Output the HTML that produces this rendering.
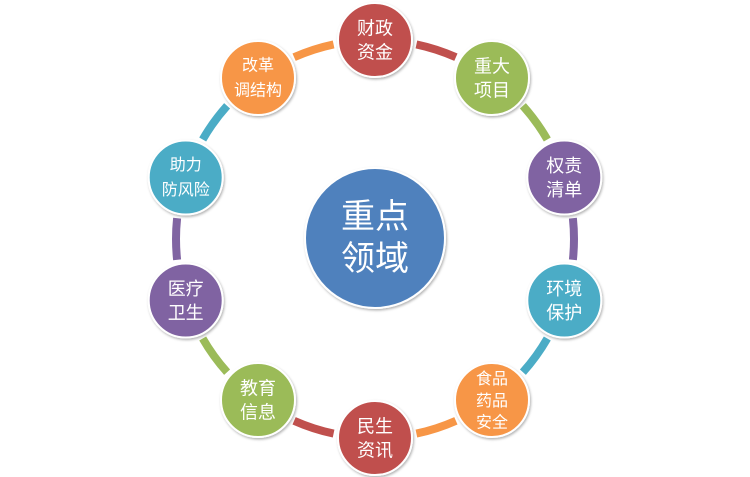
<!DOCTYPE html>
<html><head><meta charset="utf-8"><style>
html,body{margin:0;padding:0;background:#fff;}
svg{display:block;}
text{font-family:"Liberation Sans","Noto Sans CJK SC",sans-serif;fill:#fff;text-anchor:middle;}
</style></head><body>
<svg width="750" height="477" viewBox="0 0 750 477">
<defs>
<filter id="sh" x="-20%" y="-20%" width="140%" height="140%"><feDropShadow dx="1" dy="1.5" stdDeviation="1.2" flood-color="#000" flood-opacity="0.3"/></filter>
</defs>
<g fill="none" stroke-width="8">
<path d="M416.4 44.4 A199 199 0 0 1 455.9 57.2" stroke="#C0504D"/>
<path d="M522.9 105.8 A199 199 0 0 1 547.3 139.5" stroke="#9BBB59"/>
<path d="M572.9 218.2 A199 199 0 0 1 572.9 259.8" stroke="#8064A2"/>
<path d="M547.3 338.5 A199 199 0 0 1 522.9 372.2" stroke="#4BACC6"/>
<path d="M455.9 420.8 A199 199 0 0 1 416.4 433.6" stroke="#F79646"/>
<path d="M333.6 433.6 A199 199 0 0 1 294.1 420.8" stroke="#C0504D"/>
<path d="M227.1 372.2 A199 199 0 0 1 202.7 338.5" stroke="#9BBB59"/>
<path d="M177.1 259.8 A199 199 0 0 1 177.1 218.2" stroke="#8064A2"/>
<path d="M202.7 139.5 A199 199 0 0 1 227.1 105.8" stroke="#4BACC6"/>
<path d="M294.1 57.2 A199 199 0 0 1 333.6 44.4" stroke="#F79646"/>
</g>
<g stroke="#fff" stroke-width="2" filter="url(#sh)">
<circle cx="375" cy="40" r="37" fill="#C0504D"/>
<circle cx="492" cy="78" r="37" fill="#9BBB59"/>
<circle cx="564.3" cy="177.5" r="37" fill="#8064A2"/>
<circle cx="564.3" cy="300.5" r="37" fill="#4BACC6"/>
<circle cx="492" cy="400" r="37" fill="#F79646"/>
<circle cx="375" cy="438" r="37" fill="#C0504D"/>
<circle cx="258" cy="400" r="37" fill="#9BBB59"/>
<circle cx="185.7" cy="300.5" r="37" fill="#8064A2"/>
<circle cx="185.7" cy="177.5" r="37" fill="#4BACC6"/>
<circle cx="258" cy="78" r="37" fill="#F79646"/>
<circle cx="375" cy="238" r="70" fill="#4F81BD"/>
</g>
<g font-size="18">
<text x="375" y="34.5">财政</text><text x="375" y="58.5">资金</text>
<text x="492" y="72.5">重大</text><text x="492" y="96.5">项目</text>
<text x="564.3" y="172">权责</text><text x="564.3" y="196">清单</text>
<text x="564.3" y="295">环境</text><text x="564.3" y="319">保护</text>
<text x="375" y="432.5">民生</text><text x="375" y="456.5">资讯</text>
<text x="258" y="394.5">教育</text><text x="258" y="418.5">信息</text>
<text x="185.7" y="295">医疗</text><text x="185.7" y="319">卫生</text>
</g>
<g font-size="16">
<text x="492" y="384">食品</text><text x="492" y="405.8">药品</text><text x="492" y="427.6">安全</text>
<text x="185.7" y="170">助力</text><text x="185.7" y="195">防风险</text>
<text x="258" y="70.5">改革</text><text x="258" y="95.5">调结构</text>
</g>
<text x="375" y="228" font-size="34">重点</text>
<text x="375" y="270" font-size="34">领域</text>
</svg>
</body></html>
